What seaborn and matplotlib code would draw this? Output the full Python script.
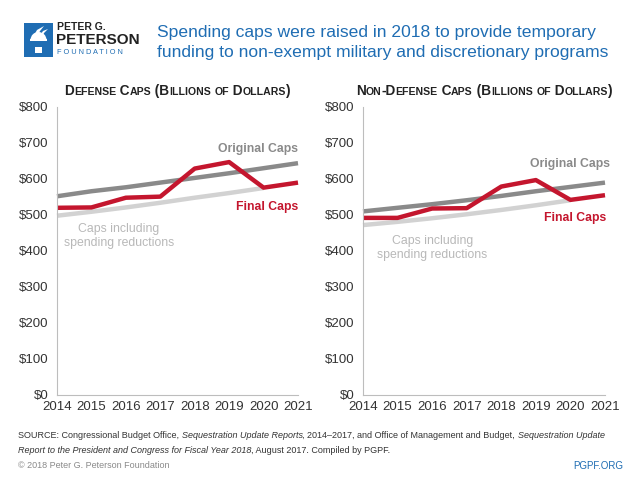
import re
import numpy as np
import pandas as pd
import seaborn as sns
import matplotlib.pyplot as plt
from matplotlib.transforms import Affine2D
from matplotlib.offsetbox import TextArea, HPacker, VPacker, AnchoredOffsetbox
from matplotlib.patches import Rectangle, Polygon, Wedge

# data (billions of dollars)
years = [2014, 2015, 2016, 2017, 2018, 2019, 2020, 2021]
def_original = [552, 566, 577, 590, 603, 616, 630, 644]
def_reduced = [498, 509, 521, 534, 548, 561, 575]          # ends at 2020
def_final = [520, 521, 548, 551, 629, 647, 576, 590]
nondef_original = [510, 520, 530, 541, 553, 566, 578, 590]
nondef_reduced = [472, 481, 491, 502, 514, 527, 541]       # ends at 2020
nondef_final = [492, 492, 518, 519, 579, 597, 542, 555]
yticks = [0, 100, 200, 300, 400, 500, 600, 700, 800]

BLUE = "#1f6db3"
RED = "#c4162e"
DARK = "#8a8a8a"
LIGHT = "#d2d2d2"
LIGHT_TXT = "#b8b8b8"

sns.set_style("white")
plt.rcParams["font.family"] = ["Liberation Sans", "DejaVu Sans"]

fig = plt.figure(figsize=(6.4, 4.8), dpi=100)
# pixel coords, origin top-left
px = Affine2D().scale(1 / 640, -1 / 480).translate(0, 1) + fig.transFigure


def smallcaps(s, big, small, **kw):
    parts = re.findall(r"[a-z]+|[^a-z]+", s)
    boxes = []
    for p in parts:
        size = small if p.islower() else big
        boxes.append(TextArea(p.upper(), textprops=dict(size=size, **kw)))
    return HPacker(children=boxes, align="baseline", pad=0, sep=0)


def panel(rect, original, reduced, final, title, lbl):
    ax = fig.add_axes(rect)
    d = pd.DataFrame({"year": years, "orig": original, "final": final})
    dr = pd.DataFrame({"year": years[:len(reduced)], "red": reduced})
    sns.lineplot(data=dr, x="year", y="red", ax=ax, color=LIGHT, lw=3.2,
                 clip_on=False, solid_capstyle="butt")
    sns.lineplot(data=d, x="year", y="orig", ax=ax, color=DARK, lw=3.2,
                 clip_on=False, solid_capstyle="butt")
    sns.lineplot(data=d, x="year", y="final", ax=ax, color=RED, lw=3.2,
                 clip_on=False, solid_capstyle="butt")
    ax.set_xlim(2014, 2021)
    ax.set_ylim(0, 800)
    ax.set_xticks(years)
    ax.set_yticks(yticks)
    ax.set_yticklabels([f"${v}" for v in yticks])
    ax.set_xlabel("")
    ax.set_ylabel("")
    for s in ["top", "right"]:
        ax.spines[s].set_visible(False)
    for s in ["left", "bottom"]:
        ax.spines[s].set_color("#bdbdbd")
        ax.spines[s].set_linewidth(0.8)
    ax.tick_params(axis="y", direction="out", length=3, color="#bdbdbd",
                   labelsize=9.5, labelcolor="#333333", pad=3)
    ax.tick_params(axis="x", direction="in", length=3, color="#bdbdbd",
                   labelsize=9.5, labelcolor="#333333", pad=4)
    # labels
    (ox, oy), (fx, fy), (cx, cy) = lbl
    ax.text(ox, oy, "Original Caps", color=DARK, ha="right", va="center",
            fontsize=8.8, fontweight="bold")
    ax.text(fx, fy, "Final Caps", color=RED, ha="right", va="center",
            fontsize=8.8, fontweight="bold")
    ax.text(cx, cy, "Caps including\nspending reductions", color=LIGHT_TXT,
            ha="center", va="center", fontsize=8.8, linespacing=1.2)
    box = AnchoredOffsetbox(loc="lower center",
                            child=smallcaps(title, 9.8, 7.6, color="#222222",
                                            weight="bold"),
                            bbox_to_anchor=(0.5, 1.03), bbox_transform=ax.transAxes,
                            frameon=False, pad=0, borderpad=0)
    ax.add_artist(box)
    return ax


panel([57 / 640, 85 / 480, 241 / 640, 288 / 480], def_original, def_reduced,
      def_final, "Defense Caps (Billions of Dollars)",
      [(2021, 683), (2021, 522), (2015.8, 442)])
panel([363 / 640, 85 / 480, 242 / 640, 288 / 480], nondef_original, nondef_reduced,
      nondef_final, "Non-Defense Caps (Billions of Dollars)",
      [(2021.15, 642), (2021.05, 492), (2016.0, 408)])

# header
fig.text(157, 37, "Spending caps were raised in 2018 to provide temporary",
         transform=px, color=BLUE, fontsize=12.6, va="baseline", ha="left")
fig.text(157, 57, "funding to non-exempt military and discretionary programs",
         transform=px, color=BLUE, fontsize=12.6, va="baseline", ha="left")

# logo
fig.add_artist(Rectangle((24, 23), 29, 34, transform=px, color=BLUE, lw=0))
fig.add_artist(Wedge((38.5, 40), 8, 180, 360, transform=px, color="white", lw=0))
fig.add_artist(Rectangle((30, 39), 17, 2, transform=px, color="white", lw=0))
fig.add_artist(Rectangle((35, 47), 7, 6, transform=px, color="white", lw=0))
fig.add_artist(Polygon([(33, 37), (37, 30), (44, 26), (40, 31), (37, 37)],
                       transform=px, color="white", lw=0))
fig.add_artist(Polygon([(39, 37), (43, 31), (48, 29), (44, 33), (42, 37)],
                       transform=px, color="white", lw=0))
fig.text(57, 27, "PETER G.", transform=px, fontsize=7.5, fontweight="bold",
         color="#222222", va="center")
fig.text(56, 40, "PETERSON", transform=px, fontsize=11, fontweight="bold",
         color="#222222", va="center")
fig.text(57, 52, "F O U N D A T I O N", transform=px, fontsize=5.3,
         color=BLUE, va="center")

# footer
def T(s, italic=False):
    return TextArea(s, textprops=dict(size=6.5, color="#333333",
                                      style="italic" if italic else "normal"))

line1 = HPacker(children=[T("SOURCE: Congressional Budget Office, "),
                          T("Sequestration Update Reports", True),
                          T(", 2014–2017, and Office of Management and Budget, "),
                          T("Sequestration Update", True)],
                align="baseline", pad=0, sep=0)
line2 = HPacker(children=[T("Report to the President and Congress for Fiscal Year 2018", True),
                          T(", August 2017. Compiled by PGPF.")],
                align="baseline", pad=0, sep=0)
foot = AnchoredOffsetbox(loc="upper left",
                         child=VPacker(children=[line1, line2], align="left", pad=0, sep=4),
                         bbox_to_anchor=(18 / 640, 1 - 431 / 480),
                         bbox_transform=fig.transFigure, frameon=False, pad=0, borderpad=0)
fig.add_artist(foot)
fig.text(18, 466, "© 2018 Peter G. Peterson Foundation", transform=px,
         fontsize=6.5, color="#8a8a8a", va="center")
fig.text(623, 466, "PGPF.ORG", transform=px, fontsize=7, color=BLUE,
         va="center", ha="right")

fig.savefig("out.png", dpi=100)
